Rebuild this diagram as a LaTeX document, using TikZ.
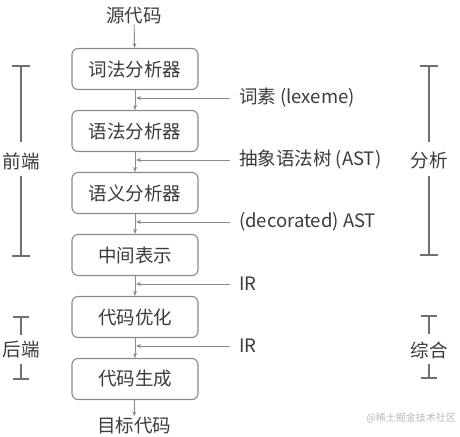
\documentclass[tikz,border=0pt]{standalone}
\usepackage{fontspec}
\setmainfont{Noto Sans CJK SC}
\usetikzlibrary{arrows.meta}
\definecolor{txt}{HTML}{3A3A3A}
\definecolor{bord}{HTML}{8A8A8A}
\definecolor{brk}{HTML}{707070}
\definecolor{wm}{HTML}{B8B8B8}
\tikzset{
  stagebox/.style={draw=bord, line width=1.1pt, rounded corners=6pt, minimum width=126pt, minimum height=41pt, inner sep=0pt, text=txt, font=\fontsize{18.5}{21}\selectfont},
  lbl/.style={text=txt, font=\fontsize{18.5}{21}\selectfont, inner sep=0pt},
  flow/.style={draw=bord, line width=0.9pt, -{Stealth[length=5pt,width=4pt]}},
  brkline/.style={draw=brk, line width=2pt},
}
\begin{document}
\begin{tikzpicture}[x=1pt,y=-1pt]
\useasboundingbox (0,0) rectangle (460,436);
\node[lbl] (src) at (134,16) {源代码};
\node[stagebox] (b1) at (135,69) {词法分析器};
\node[stagebox] (b2) at (135,131) {语法分析器};
\node[stagebox] (b3) at (135,193) {语义分析器};
\node[stagebox] (b4) at (135,255) {中间表示};
\node[stagebox] (b5) at (135,317) {代码优化};
\node[stagebox] (b6) at (135,379) {代码生成};
\node[lbl] (dst) at (134,425) {目标代码};

\draw[flow] (src) -- (b1);
\draw[flow] (b1) -- (b2);
\draw[flow] (b2) -- (b3);
\draw[flow] (b3) -- (b4);
\draw[flow] (b4) -- (b5);
\draw[flow] (b5) -- (b6);
\draw[flow] (b6) -- (dst);

\node[lbl, anchor=west] (l1) at (239,98) {词素 (lexeme)};
\node[lbl, anchor=west] (l2) at (239,160) {抽象语法树 (AST)};
\node[lbl, anchor=west] (l3) at (239,222) {(decorated) AST};
\node[lbl, anchor=west] (l4) at (239,284) {IR};
\node[lbl, anchor=west] (l5) at (239,346) {IR};

\coordinate (s1) at (230,98); \coordinate (t1) at (136,98);
\coordinate (s2) at (230,160); \coordinate (t2) at (136,160);
\coordinate (s3) at (230,222); \coordinate (t3) at (136,222);
\coordinate (s4) at (230,284); \coordinate (t4) at (136,284);
\coordinate (s5) at (230,346); \coordinate (t5) at (136,346);
\foreach \i in {1,...,5} {\draw[flow] (s\i) -- (t\i);}

% front end bracket
\node[lbl] (fe) at (21,161) {前端};
\coordinate (fet) at (21,66); \coordinate (feb) at (21,256);
\draw[brkline] (fet) -- (21,142) (21,176) -- (feb);
\draw[brkline] ([xshift=-9pt]fet) -- ([xshift=9pt]fet);
\draw[brkline] ([xshift=-9pt]feb) -- ([xshift=9pt]feb);

% analysis bracket
\node[lbl] (an) at (429,160) {分析};
\coordinate (ant) at (429,66); \coordinate (anb) at (429,255);
\draw[brkline] (ant) -- (429,142) (429,176) -- (anb);
\draw[brkline] ([xshift=-9pt]ant) -- ([xshift=9pt]ant);
\draw[brkline] ([xshift=-9pt]anb) -- ([xshift=9pt]anb);

% back end bracket
\node[lbl] (be) at (21,350) {后端};
\coordinate (bet) at (21,317); \coordinate (beb) at (21,379);
\draw[brkline] (bet) -- (21,335) (21,364) -- (beb);
\draw[brkline] ([xshift=-8pt]bet) -- ([xshift=8pt]bet);
\draw[brkline] ([xshift=-8pt]beb) -- ([xshift=8pt]beb);

% synthesis bracket
\node[lbl] (sy) at (429,350) {综合};
\coordinate (syt) at (429,316); \coordinate (syb) at (429,378);
\draw[brkline] (syt) -- (429,334) (429,364) -- (syb);
\draw[brkline] ([xshift=-8pt]syt) -- ([xshift=8pt]syt);
\draw[brkline] ([xshift=-8pt]syb) -- ([xshift=8pt]syb);

\node[text=wm, font=\fontsize{10}{12}\selectfont, anchor=east, inner sep=0pt] (wmk) at (456,418) {@稀土掘金技术社区};
\end{tikzpicture}
\end{document}
